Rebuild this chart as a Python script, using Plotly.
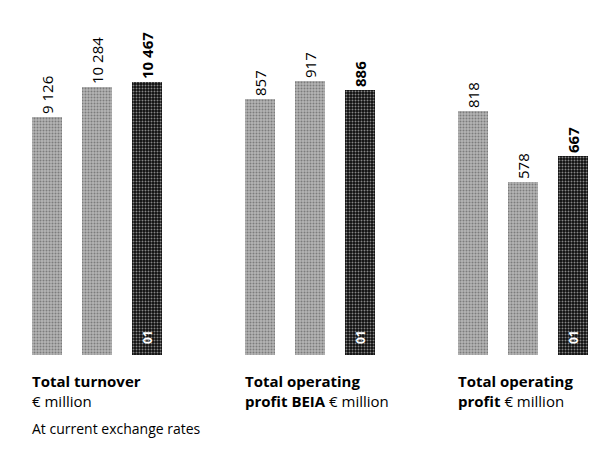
import plotly.graph_objects as go

years = ["99", "00", "01"]
group_titles = [
    "<b>Total turnover</b><br>€ million",
    "<b>Total operating<br>profit BEIA</b> € million",
    "<b>Total operating<br>profit</b> € million",
]
turnover = [9126, 10284, 10467]
profit_beia = [857, 917, 886]
operating_profit = [818, 578, 667]
value_labels = [
    ["9 126", "10 284", "10 467"],
    ["857", "917", "886"],
    ["818", "578", "667"],
]
footnote = "At current exchange rates"

series = [turnover, profit_beia, operating_profit]
axes = ["y", "y2", "y2"]

GROUP_STEP = 213
BAR_STEP = 50
BAR_W = 30
FONT = "Open Sans"

gray = "#b4b4b4"
black = "#0d0d0d"

fig = go.Figure()
for g, vals in enumerate(series):
    xs = [g * GROUP_STEP + i * BAR_STEP for i in range(len(vals))]
    texts = [
        (f"<b>{value_labels[g][i]}</b>" if i == len(vals) - 1 else value_labels[g][i])
        for i in range(len(vals))
    ]
    colors = [gray, gray, black]
    fig.add_trace(go.Bar(
        x=xs, y=vals, width=BAR_W, yaxis=axes[g],
        marker=dict(color=colors, line=dict(width=0),
                    pattern=dict(shape=".", fgcolor="#6e6e6e", size=3, solidity=0.35,
                                 fillmode="overlay")),
        text=texts, textposition="outside", textangle=-90,
        textfont=dict(family=FONT, size=15, color="#000"),
        constraintext="none", cliponaxis=False, showlegend=False,
        hoverinfo="skip",
    ))
    # year label inside last bar
    fig.add_annotation(
        x=xs[-1], y=0, yref=axes[g], text="<b>" + years[-1] + "</b>",
        textangle=-90, showarrow=False, xanchor="center", yanchor="bottom",
        yshift=9, font=dict(family=FONT, size=12, color="white"),
    )
    fig.add_annotation(
        x=xs[0] - BAR_W / 2, y=0, yref=axes[g], text=group_titles[g],
        showarrow=False, xanchor="left", yanchor="top", align="left",
        yshift=-14, xshift=-2,
        font=dict(family=FONT, size=15, color="#000"),
    )

fig.add_annotation(
    x=-BAR_W / 2, y=0, yref="y", text=footnote, showarrow=False,
    xanchor="left", yanchor="top", align="left", yshift=-62, xshift=-2,
    font=dict(family=FONT, size=14, color="#000"),
)

fig.update_layout(
    width=601, height=450,
    margin=dict(l=0, r=0, t=0, b=95),
    paper_bgcolor="white", plot_bgcolor="white",
    bargap=0,
    xaxis=dict(range=[-47, 554], visible=False, fixedrange=True),
    yaxis=dict(range=[0, 13617], visible=False, fixedrange=True),
    yaxis2=dict(range=[0, 1189], visible=False, overlaying="y", fixedrange=True),
)

fig.write_html("out.html", config={"displayModeBar": False},
               post_script="document.body.style.margin='0';")
